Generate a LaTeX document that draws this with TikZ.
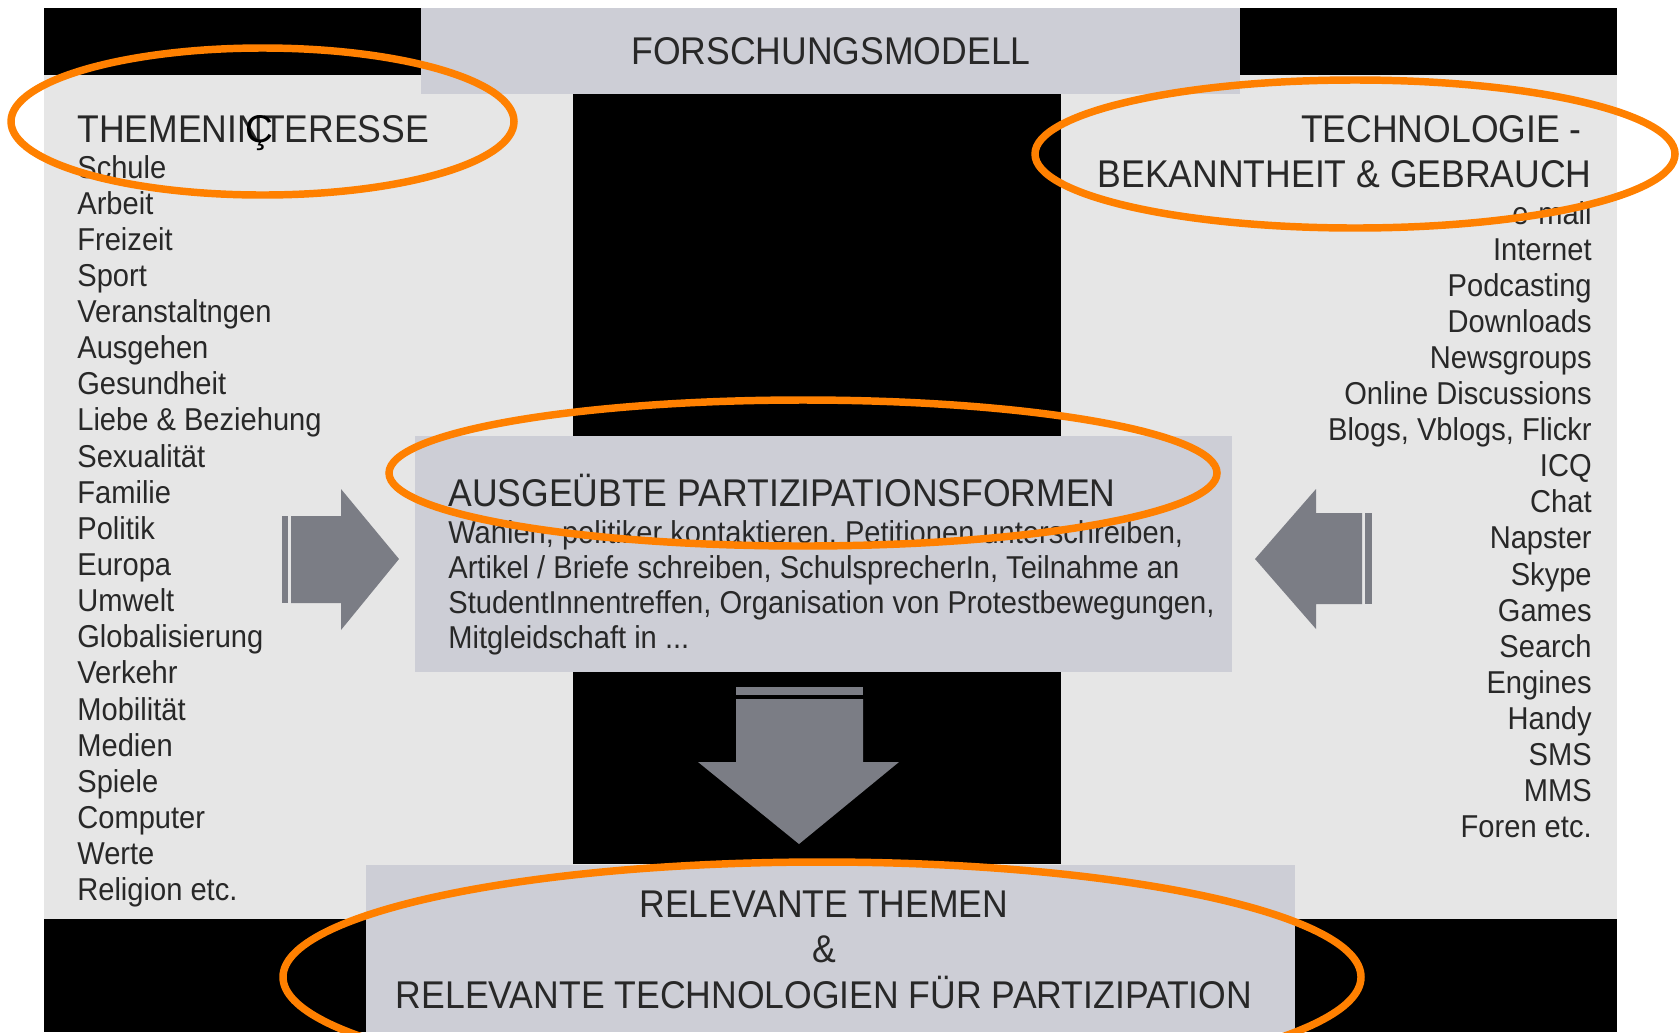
\documentclass[tikz,border=0pt]{standalone}
\usepackage{fontspec}
\setmainfont{Liberation Sans}[FakeStretch=0.92]
\newfontfamily\plainsans{Liberation Sans}
\definecolor{bgl}{RGB}{230,230,230}
\definecolor{boxc}{RGB}{205,206,214}
\definecolor{arr}{RGB}{123,125,133}
\definecolor{orng}{RGB}{255,128,0}
\definecolor{txt}{RGB}{40,40,40}
\begin{document}
\begin{tikzpicture}[x=0.02cm,y=-0.02cm,
  hd/.style={font=\fontsize{22}{26}\selectfont, text=txt, inner sep=0pt},
  item/.style={font=\fontsize{18}{21}\selectfont, text=txt, inner sep=0pt},
  blockarrow/.style={fill=arr, draw=none},
  ring/.style={draw=orng, line width=4.25pt}]
\useasboundingbox (0,0) rectangle (1679,1032);
\fill[white] (0,0) rectangle (1679,1032);
% backgrounds
\fill[black] (44,7.5) rectangle (1617,75);
\fill[bgl] (44,75) rectangle (1617,919);
\fill[black] (44,919) rectangle (1617,1032);
\fill[black] (573,94) rectangle (1061,864);
% boxes
\fill[boxc] (421,7.5) rectangle (1240,94);
\fill[boxc] (415,436) rectangle (1232,672);
\fill[boxc] (366,865) rectangle (1295,1032);
% block arrows
\fill[blockarrow] (282,516) rectangle (288,603);
\fill[blockarrow] (291,516) -- (341,516) -- (341,489) -- (399,559) -- (341,630) -- (341,603) -- (291,603) -- cycle;
\fill[blockarrow] (1365,513) rectangle (1372,604);
\fill[blockarrow] (1362,513) -- (1316,513) -- (1316,489) -- (1255,559) -- (1316,629) -- (1316,604) -- (1362,604) -- cycle;
\fill[blockarrow] (736,687) rectangle (863,695);
\fill[blockarrow] (736,699) -- (863,699) -- (863,762) -- (899,762) -- (799,844) -- (698,762) -- (736,762) -- cycle;
% headings
\node[hd, anchor=base] (title) at (831,64) {FORSCHUNGSMODELL};
\node[hd, anchor=base west] (themen) at (77,142) {THEMENINTERESSE};
\node[font=\plainsans\fontsize{22}{26}\selectfont, text=black, inner sep=0pt, anchor=base] (cced) at (259,142) {Ç};
\node[hd, anchor=base east] (tech1) at (1582,142) {TECHNOLOGIE -};
\node[hd, anchor=base east] (tech2) at (1592,187) {BEKANNTHEIT \& GEBRAUCH};
\node[hd, anchor=base west] (mid) at (448,506) {AUSGEÜBTE PARTIZIPATIONSFORMEN};
\node[item, anchor=base west] (m1) at (448,543) {Wahlen, politiker kontaktieren, Petitionen unterschreiben,};
\node[item, anchor=base west] (m2) at (448,578) {Artikel / Briefe schreiben, SchulsprecherIn, Teilnahme an};
\node[item, anchor=base west] (m3) at (448,613) {StudentInnentreffen, Organisation von Protestbewegungen,};
\node[item, anchor=base west] (m4) at (448,648) {Mitgleidschaft in ...};
\node[hd, anchor=base] (r1) at (824,917) {RELEVANTE THEMEN};
\node[hd, anchor=base] (r2) at (824,962) {\&};
\node[hd, anchor=base] (r3) at (824,1008) {RELEVANTE TECHNOLOGIEN FÜR PARTIZIPATION};
% lists
\foreach \t [count=\i from 0] in {Schule,Arbeit,Freizeit,Sport,Veranstaltngen,Ausgehen,Gesundheit,Liebe \& Beziehung,Sexualität,Familie,Politik,Europa,Umwelt,Globalisierung,Verkehr,Mobilität,Medien,Spiele,Computer,Werte,Religion etc.}
  \node[item, anchor=base west] (L\i) at (77,{178+36.14*\i}) {\t};
\foreach \t [count=\i from 0] in {e-mail,Internet,Podcasting,Downloads,Newsgroups,Online Discussions,{Blogs, Vblogs, Flickr},ICQ,Chat,Napster,Skype,Games,Search,Engines,Handy,SMS,MMS,Foren etc.}
  \node[item, anchor=base east] (R\i) at (1592,{224+36.1*\i}) {\t};
% highlight ellipses
\draw[ring] (262.5,121.5) ellipse [x radius=251.5, y radius=73.5];
\draw[ring] (1355,154) ellipse [x radius=320, y radius=74];
\draw[ring] (803,473) ellipse [x radius=414, y radius=73];
\draw[ring] (822,977) ellipse [x radius=539, y radius=115];
\end{tikzpicture}
\end{document}
